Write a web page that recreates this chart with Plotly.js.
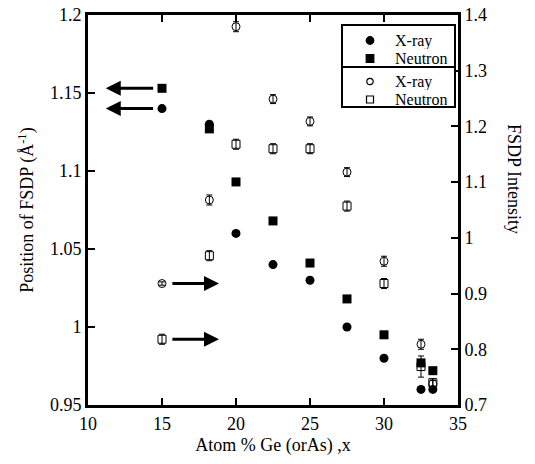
<!DOCTYPE html>
<html>
<head>
<meta charset="utf-8">
<script src="https://cdn.plot.ly/plotly-3.0.1.min.js"></script>
<style>html,body{margin:0;padding:0;background:#fff;}#chart{width:535px;height:464px;}</style>
</head>
<body>
<div id="chart"></div>
<script>
// Composition x (atom % Ge or As)
const xPos = [15, 18.2, 20, 22.5, 25, 27.5, 30, 32.5, 33.3];
// FSDP position (Å^-1), left axis
const posXray    = [1.140, 1.130, 1.060, 1.040, 1.030, 1.000, 0.980, 0.960, 0.960];
const posNeutron = [1.153, 1.127, 1.093, 1.068, 1.041, 1.018, 0.995, 0.977, 0.972];
// FSDP intensity, right axis
const intXray       = [0.918, 1.068, 1.379, 1.249, 1.209, 1.118, 0.958, 0.809, 0.738];
const intXrayErr    = [0.003, 0.009, 0.009, 0.008, 0.008, 0.008, 0.009, 0.009, 0.006];
const intNeutron    = [0.818, 0.968, 1.168, 1.160, 1.160, 1.057, 0.918, 0.769, 0.740];
const intNeutronErr = [0.009, 0.009, 0.009, 0.009, 0.009, 0.009, 0.009, 0.019, 0.007];

const legendNames = ['X-ray', 'Neutron', 'X-ray', 'Neutron'];
const xTicks = [10, 15, 20, 25, 30, 35];
const yLeftTicks = [0.95, 1, 1.05, 1.1, 1.15, 1.2];
const yLeftText = ['0.95', '1', '1.05', '1.1', '1.15', '1.2'];
const yRightTicks = [0.7, 0.8, 0.9, 1, 1.1, 1.2, 1.3, 1.4];
const yRightText = ['0.7', '0.8', '0.9', '1', '1.1', '1.2', '1.3', '1.4'];

const FONT = 'Liberation Serif, Times New Roman, serif';
const TICKFONT = {family: FONT, size: 18, color: '#000'};

const traces = [
  {x: xPos, y: posXray, name: legendNames[0], type: 'scatter', mode: 'markers',
   yaxis: 'y', marker: {symbol: 'circle', size: 9, color: '#000'}},
  {x: xPos, y: posNeutron, name: legendNames[1], type: 'scatter', mode: 'markers',
   yaxis: 'y', marker: {symbol: 'square', size: 9, color: '#000'}},
  {x: xPos, y: intXray, name: legendNames[2], type: 'scatter', mode: 'markers',
   yaxis: 'y2',
   error_y: {type: 'data', array: intXrayErr, visible: true, color: '#000', thickness: 1, width: 3},
   marker: {symbol: 'circle-open', size: 8, color: '#000', line: {width: 1, color: '#000'}}},
  {x: xPos, y: intNeutron, name: legendNames[3], type: 'scatter', mode: 'markers',
   yaxis: 'y2',
   error_y: {type: 'data', array: intNeutronErr, visible: true, color: '#000', thickness: 1, width: 3},
   marker: {symbol: 'square-open', size: 8, color: '#000', line: {width: 1, color: '#000'}}}
];

function arrow(tipX, tailX, y, yref) {
  return {x: tipX, y: y, ax: tailX, ay: y, xref: 'x', yref: yref, axref: 'x', ayref: yref,
          text: '', showarrow: true, arrowhead: 2, arrowsize: 1, arrowwidth: 3, arrowcolor: '#000'};
}

// Hand-drawn legend box (paper coordinates)
const LG = {x0: 0.6865, x1: 0.9919, y0: 0.7640, y1: 0.9744, div: 0.8667,
            sym: 0.7622, txt: 0.8243, rows: [0.9346, 0.8885, 0.8295, 0.7833]};
const symStyles = [
  {kind: 'circle', fill: '#000', r: 3.8},
  {kind: 'rect', fill: '#000', r: 3.8},
  {kind: 'circle', fill: 'rgba(0,0,0,0)', r: 3.2},
  {kind: 'rect', fill: 'rgba(0,0,0,0)', r: 3.5}
];
const legendShapes = [
  {type: 'rect', xref: 'paper', yref: 'paper', x0: LG.x0, x1: LG.x1, y0: LG.y0, y1: LG.y1,
   line: {color: '#000', width: 2}, fillcolor: '#fff', layer: 'above'},
  {type: 'line', xref: 'paper', yref: 'paper', x0: LG.x0, x1: LG.x1, y0: LG.div, y1: LG.div,
   line: {color: '#000', width: 2}, layer: 'above'}
];
symStyles.forEach((s, i) => {
  legendShapes.push({type: s.kind, xref: 'paper', yref: 'paper',
    xsizemode: 'pixel', ysizemode: 'pixel', xanchor: LG.sym, yanchor: LG.rows[i],
    x0: -s.r, x1: s.r, y0: -s.r, y1: s.r,
    fillcolor: s.fill, line: {color: '#000', width: 1.2}, layer: 'above'});
});
const legendTexts = legendNames.map((n, i) => ({
  text: n, xref: 'paper', yref: 'paper', x: LG.txt, y: LG.rows[i],
  xanchor: 'left', yanchor: 'middle', showarrow: false, height: 17,
  font: {family: FONT, size: 16, color: '#000'}
}));

const layout = {
  width: 535, height: 464,
  margin: {l: 88, r: 77, t: 15, b: 59},
  paper_bgcolor: '#fff', plot_bgcolor: '#fff',
  font: {family: FONT, size: 18, color: '#000'},
  showlegend: false,
  xaxis: {range: [10, 35], tickvals: xTicks, ticktext: xTicks.map(String), tickfont: TICKFONT,
          ticks: 'inside', ticklen: 7, tickwidth: 2, tickcolor: '#000',
          showline: true, linewidth: 3, linecolor: '#000', mirror: 'ticks',
          showgrid: false, zeroline: false,
          title: {text: 'Atom % Ge (orAs) ,x', font: {family: FONT, size: 18}, standoff: 6}},
  yaxis: {range: [0.95, 1.2], tickvals: yLeftTicks, ticktext: yLeftText, tickfont: TICKFONT,
          ticks: 'inside', ticklen: 7, tickwidth: 2, tickcolor: '#000',
          showline: true, linewidth: 3, linecolor: '#000',
          showgrid: false, zeroline: false,
          title: {text: 'Position of FSDP (Å<sup>-1</sup>)', font: {family: FONT, size: 18}, standoff: 12}},
  yaxis2: {range: [0.7, 1.4], tickvals: yRightTicks, ticktext: yRightText, tickfont: TICKFONT,
           overlaying: 'y', side: 'right',
           ticks: 'inside', ticklen: 7, tickwidth: 2, tickcolor: '#000',
           showline: true, linewidth: 3, linecolor: '#000',
           showgrid: false, zeroline: false},
  annotations: [
    arrow(11.2, 14.5, posNeutron[0], 'y'),
    arrow(11.2, 14.5, posXray[0], 'y'),
    arrow(18.85, 15.6, intXray[0], 'y2'),
    arrow(18.85, 15.6, intNeutron[0], 'y2'),
    {text: 'FSDP Intensity', xref: 'paper', yref: 'paper', x: 1.183, y: 0.58,
     showarrow: false, textangle: 90, font: {family: FONT, size: 18, color: '#000'}}
  ].concat(legendTexts),
  shapes: legendShapes
};

Plotly.newPlot('chart', traces, layout, {displayModeBar: false, staticPlot: true});
</script>
</body>
</html>
